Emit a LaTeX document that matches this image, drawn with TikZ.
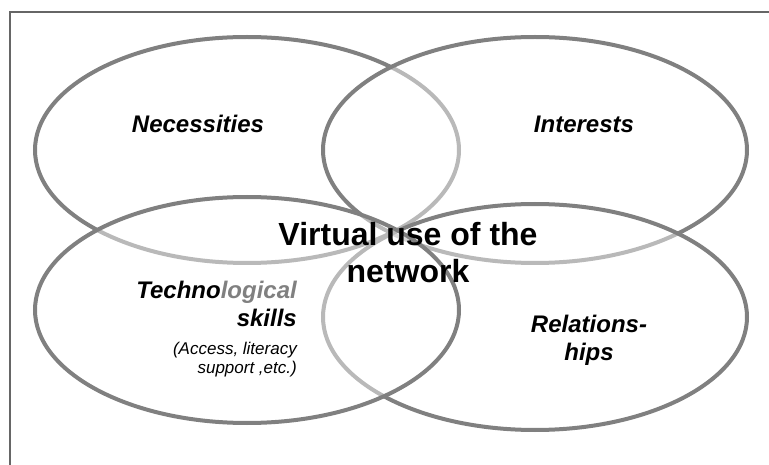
\documentclass[tikz,border=0pt]{standalone}
\usepackage{fontspec}
\setmainfont{Liberation Sans}
\usetikzlibrary{shapes.geometric}

\begin{document}
\begin{tikzpicture}[x=1pt, y=-1pt,
    venn/.style={ellipse, draw=gray, line width=4pt, fill=white, fill opacity=0.45, minimum width=424pt, minimum height=226pt, inner sep=0pt},
    lbl/.style={font=\fontsize{24}{28}\selectfont\bfseries\itshape, inner sep=0pt},
    note/.style={font=\fontsize{17}{19}\selectfont\itshape, inner sep=0pt}]
    \useasboundingbox (0,0) rectangle (769,465);
    \draw[black!60, line width=1.2pt] (769,12) -- (10,12) -- (10,465);

    % ellipses, lowest first
    \node[venn] at (247,150) (nec) {};
    \node[venn] at (535,150) (inte) {};
    \node[venn] at (535,317) (rel) {};
    \node[venn] at (247,310) (tech) {};

    % labels
    \node[lbl, anchor=base] at (198,133) (necText) {Necessities};
    \node[lbl, anchor=base] at (584,133) (intText) {Interests};
    \node[lbl, align=center, anchor=north] at (589,314.5) (relText) {Relations-\\hips};
    \node[lbl, align=right, anchor=north east] at (297,281) (techText) {Techno\textcolor{gray}{logical}\\skills};
    \node[note, align=right, anchor=north east] at (297,341.6) (techNote) {(Access, literacy\\support ,etc.)};
    \node[font=\fontsize{32}{37}\selectfont\bfseries, align=center, anchor=north, inner sep=0pt] at (408,222) (mainText) {Virtual use of the\\network};
\end{tikzpicture}
\end{document}
